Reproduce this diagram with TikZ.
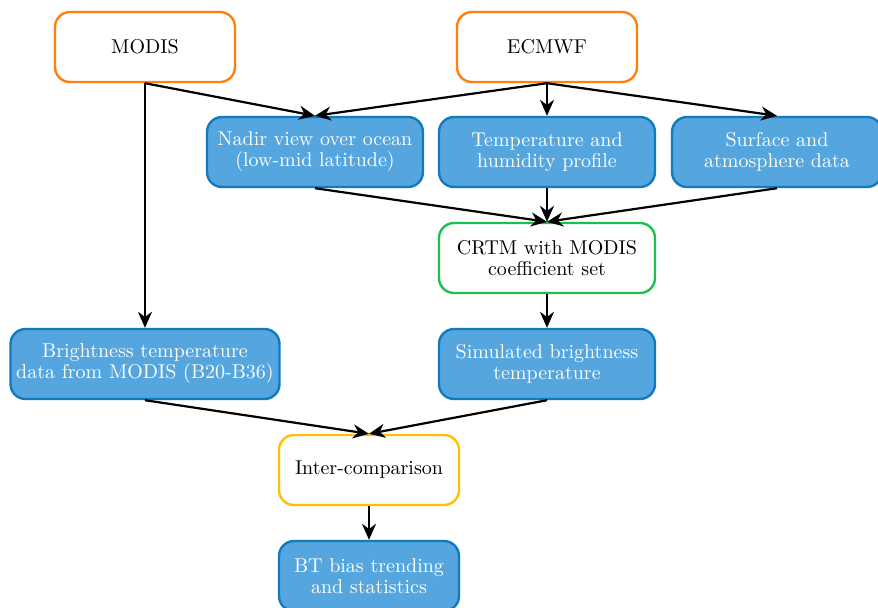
\documentclass[tikz,border=0pt]{standalone}
\usetikzlibrary{arrows.meta}
\definecolor{srcorange}{RGB}{255,128,14}
\definecolor{boxblue}{RGB}{85,166,222}
\definecolor{edgeblue}{RGB}{20,122,190}
\definecolor{crtmgreen}{RGB}{30,190,80}
\definecolor{cmpyellow}{RGB}{255,192,0}
\begin{document}
\begin{tikzpicture}[x=0.5pt, y=-0.5pt,
    base/.style={rounded corners=7.5pt, line width=1.2pt, align=center,
      minimum height=35pt, inner sep=2pt, font=\fontsize{10pt}{10.5pt}\selectfont},
    srcbox/.style={base, draw=srcorange, fill=white, minimum width=90pt},
    databox/.style={base, draw=edgeblue, fill=boxblue, text=white, minimum width=108pt},
    arr/.style={-{Stealth[length=8pt,width=7pt]}, line width=1.1pt}]
  \useasboundingbox (0,0) rectangle (878,607);
  \node [srcbox] (modis) at (145,47) {MODIS};
  \node [srcbox] (ecmwf) at (547,47) {ECMWF};
  \node [databox] (nadir) at (315,152) {Nadir view over ocean\\(low-mid latitude)};
  \node [databox] (temp) at (547,152) {Temperature and\\humidity profile};
  \node [databox, minimum width=105pt] (surf) at (777,152) {Surface and\\atmosphere data};
  \node [srcbox, draw=crtmgreen, minimum width=108pt] (crtm) at (547,258) {CRTM with MODIS\\coefficient set};
  \node [databox, minimum width=134.5pt] (bright) at (145,364) {Brightness temperature\\data from MODIS (B20-B36)};
  \node [databox] (sim) at (547,364) {Simulated brightness\\temperature};
  \node [srcbox, draw=cmpyellow] (cmp) at (369,470) {Inter-comparison};
  \node [databox, minimum width=90pt] (bias) at (369,576) {BT bias trending\\and statistics};
  % connectors
  \draw [arr] (modis.south) -- (bright.north);
  \draw [arr] (modis.south) -- (nadir.north);
  \draw [arr] (ecmwf.south) -- (nadir.north);
  \draw [arr] (ecmwf.south) -- (temp.north);
  \draw [arr] (ecmwf.south) -- (surf.north);
  \draw [arr] (nadir.south) -- (crtm.north);
  \draw [arr] (temp.south) -- (crtm.north);
  \draw [arr] (surf.south) -- (crtm.north);
  \draw [arr] (crtm.south) -- (sim.north);
  \draw [arr] (bright.south) -- (cmp.north);
  \draw [arr] (sim.south) -- (cmp.north);
  \draw [arr] (cmp.south) -- (bias.north);
\end{tikzpicture}
\end{document}
